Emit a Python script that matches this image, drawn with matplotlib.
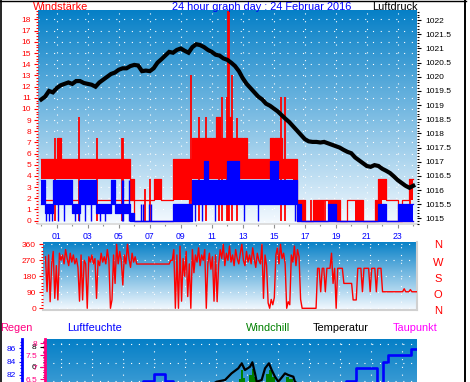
import numpy as np
import matplotlib
matplotlib.use('Agg')
import matplotlib.pyplot as plt
from matplotlib.lines import Line2D
from matplotlib.ticker import MultipleLocator, FixedLocator, FuncFormatter

plt.rcParams['font.family'] = ['Liberation Sans', 'DejaVu Sans']

W, H = 470, 382

# ---------------- data ----------------
# wind (quarter-hour intervals, 96 values): red = gusts band, blue = mean wind band
red_hi = [5.5,5.5,5.5,5.5,7.4,5.5,5.5,5.5, 5.5,5.5,5.5,5.5,5.5,5.5,5.5,5.5,
          5.5,5.5,5.5,5.5,5.5,5.5,5.5,3.7, 1.85,1.85,1.85,1.85,1.85,3.7,3.7,1.85,
          1.85,1.85,5.5,5.5,5.5,5.5,5.5,7.4, 7.4,7.4,7.4,7.4,7.4,9.3,7.4,7.4,
          9.3,7.4,7.4,7.4,7.4,5.5,5.5,5.5, 5.5,5.5,5.5,7.4,7.4,7.4,5.5,5.5,
          5.5,5.5,1.85,1.85,0,0,1.85,1.85, 1.85,1.85,1.85,1.85,1.85,0,0,1.85,
          1.85,1.85,1.85,0,0,0,1.85,3.7, 3.7,1.85,1.85,1.85,0,1.85,1.85,3.7]
red_lo = [3.7]*23 + [1.85] + [1.85]*8 + [1.85]*7 + [3.7] + [3.7]*24 + \
         [3.7,1.85,0,0,0,0,0,0, 0,1.85,0,0,0,0,0,1.85, 1.85,0,0,0,0,0,0,0,
          1.85,1.85,1.85,1.85,0,1.85,1.85,1.85]
red_base = [1.85]*24 + [0]*8 + [0,0,0,0,0,0,1.85,1.85] + [1.85]*24 + \
           [1.85,1.85,0,0,0,0,0,0] + [0]*24
blue_hi = [3.6,1.5,1.5,3.6,3.6,3.6,3.6,3.6, 1.5,1.5,3.6,3.6,3.6,3.6,1.5,1.5,
           1.5,1.5,3.6,1.5,1.5,1.5,1.5,0.7, 0,0,0,0,0,0,0,0,
           0,0,1.5,1.5,1.5,1.5,1.5,3.6, 3.6,3.6,5.3,3.6,3.6,3.6,3.6,3.6,
           5.3,5.3,5.3,3.6,3.6,3.6,3.6,3.6, 3.6,3.6,3.6,5.3,5.3,3.6,3.6,3.6,
           3.6,3.6,1.5,0,0,0,0,0, 0,0,1.5,1.5,0,0,0,0,
           0,0,0,0,0,0,0,1.5, 1.5,0,0,0,1.5,1.5,1.5,1.5]
blue_lo = [1.5,0.7,0.7,1.5,1.5,1.5,1.5,1.5, 0.7,0.7,1.5,1.5,1.5,1.5,0.7,0.7,
           0.7,0.7,1.5,0.7,0.7,0.7,0.7,0, 0,0,0,0,0,0,0,0,
           0,0,0,0,0,0,0,1.5] + [1.5]*24 + [1.5,1.5,0,0,0,0,0,0] + [0]*24
red_spike_t = [0.88, 2.43, 3.57, 5.2, 5.3, 6.7, 7.0, 9.69, 10.2, 10.6, 11.45, 11.65,
               11.96, 12.06, 12.14, 12.3, 12.6, 15.47, 15.72, 17.4, 18.3, 23.8]
red_spike_v = [7.4, 9.3, 7.4, 7.4, 7.4, 2.8, 3.7, 13.0, 9.3, 9.3, 9.3, 11.1,
               11.1, 18.8, 18.8, 13.0, 9.2, 11.1, 11.1, 1.85, 1.85, 3.7]
blue_spike_t = [0.3, 0.5, 0.7, 1.1, 1.45, 2.2, 2.43, 2.85, 3.2, 3.8, 4.1, 5.2, 5.3,
                5.65, 6.45, 6.55, 6.95, 7.1, 9.9, 10.4, 11.2, 13.1, 14.0, 16.4]
blue_spike_v = [1.5, 1.5, 1.5, 1.5, 1.5, 1.5, 3.6, 1.5, 1.5, 1.5, 1.5, 3.6, 3.6,
                3.6, 1.5, 1.5, 1.5, 1.5, 1.5, 1.5, 1.5, 1.5, 1.5, 1.5]

# pressure (hPa), every 15 min
pressure = [1019.2,1019.3,1019.5,1019.45,1019.6,1019.7,1019.75,1019.8,1019.75,1019.85,
            1019.85,1019.78,1019.75,1019.72,1019.65,1019.8,1019.9,1020.0,1020.1,1020.15,
            1020.25,1020.3,1020.3,1020.38,1020.42,1020.4,1020.2,1020.22,1020.2,1020.3,
            1020.5,1020.62,1020.75,1020.88,1020.85,1020.95,1021.0,1020.92,1020.85,1021.05,
            1021.15,1021.12,1021.05,1020.95,1020.88,1020.78,1020.75,1020.65,1020.6,1020.5,
            1020.38,1020.2,1019.95,1019.75,1019.6,1019.45,1019.3,1019.2,1019.05,1018.98,
            1018.88,1018.78,1018.65,1018.52,1018.4,1018.25,1018.1,1017.95,1017.8,1017.72,
            1017.7,1017.7,1017.68,1017.7,1017.65,1017.6,1017.55,1017.5,1017.42,1017.35,
            1017.3,1017.15,1017.05,1016.95,1016.85,1016.82,1016.88,1016.85,1016.75,1016.68,
            1016.6,1016.48,1016.35,1016.25,1016.15,1016.08,1016.15]

# wind direction (deg), every 6 minutes
direction = [290,94,300,37,250,320,56,240,47,310,
             270,300,250,330,280,240,310,260,300,250,
             280,230,40,300,47,270,250,0,290,260,
             300,250,280,56,270,240,310,260,290,250,
             330,270,0,47,300,140,360,250,320,270,
             131,300,250,360,280,230,310,260,290,249,
             249,249,249,249,249,249,249,249,249,249,
             249,249,249,249,249,249,249,249,249,249,
             249,270,270,330,0,300,0,350,40,280,
             180,320,66,250,0,330,200,300,260,340,
             240,300,270,330,0,250,310,220,290,40,
             300,37,250,330,280,360,240,310,270,350,
             260,300,240,330,280,250,310,360,270,240,
             320,260,300,250,340,280,230,310,270,250,
             360,56,300,240,30,0,50,20,60,300,
             340,250,360,280,310,250,0,37,20,300,
             260,350,240,330,290,50,0,0,0,0,
             0,0,0,0,0,0,225,225,93,225,
             225,93,225,225,225,310,140,225,0,225,
             225,225,225,140,140,140,140,140,140,47,
             47,47,225,225,225,93,225,225,225,225,
             93,225,225,225,93,225,225,225,93,93,
             93,93,93,93,93,93,93,93,93,93,
             93,93,110,93,93,93,105,93,93,93, 93]

# humidity (%)
hum_t = [0, 5.5, 6.27, 6.99, 7.7, 8.2, 12.0, 19.4, 20.06, 21.4, 21.8, 22.1, 23.6, 24.0]
hum_v = [79.5, 80.0, 81.15, 82.1, 81.15, 79.5, 70.0, 81.15, 83.0, 79.8, 83.9, 85.0, 85.9, 85.9]
# temperature / windchill (degC)
temp_t = [0, 6, 10.5, 11.04, 11.58, 12.0, 12.44, 12.66, 12.87, 13.2, 13.35, 13.52, 13.63,
          13.95, 14.17, 14.42, 14.6, 14.81, 15.03, 15.46, 15.67, 16.0, 16.1, 17, 24]
temp_v = [2.5, 2.0, 4.0, 4.5, 4.67, 5.33, 5.84, 6.34, 5.67, 6.0, 6.44, 5.33, 4.5,
          4.67, 5.84, 6.34, 5.67, 5.0, 4.5, 5.33, 5.17, 5.0, 4.5, 3.5, 2.0]
wc_t = [12.3, 12.5, 12.62, 12.75, 12.9, 13.1, 13.3, 13.45, 13.6, 14.0, 14.2, 14.4,
        14.6, 14.8, 15.3, 15.55, 15.7, 15.95]
wc_v = [3.5, 4.8, 5.7, 4.9, 4.5, 5.2, 5.8, 5.0, 4.0, 4.0, 5.3, 5.7, 5.0, 4.2, 4.3,
        5.0, 4.8, 4.0]

hour_labels = ['01', '03', '05', '07', '09', '11', '13', '15', '17', '19', '21', '23']
odd_hours = [1, 3, 5, 7, 9, 11, 13, 15, 17, 19, 21, 23]
dir_labels = ['N', 'W', 'S', 'O', 'N']
rain_ticks = [6.5, 7, 7.5, 8]
hum_ticks = [82, 84, 86]
temp_ticks = [6, 8]

# ---------------- helpers ----------------
def px_rect(l, t, r, b):
    return [l / W, 1 - b / H, (r - l) / W, (b - t) / H]

C_TOP = np.array([0.02, 0.50, 0.78])
C_BOT = np.array([0.96, 0.98, 1.0])

def gradient(ax, ctop=C_TOP, cbot=C_BOT):
    g = np.linspace(0, 1, 256)[:, None]
    img = ((1 - g) * ctop + g * cbot)[:, None, :]
    ax.imshow(img, extent=[0, 1, 0, 1], transform=ax.transAxes, aspect='auto',
              zorder=0, interpolation='bilinear')

DOTS = (0, (1, 6))
RED = '#ff0000'
BLUE = '#0000ff'
PINK = '#ff0080'

fig = plt.figure(figsize=(W / 100, H / 100), dpi=100)
fig.patch.set_facecolor('white')

# ---------------- top panel ----------------
ax1 = fig.add_axes(px_rect(38, 10, 417, 224))
gradient(ax1)
tq = np.arange(97) * 0.25
ext = lambda a: list(a) + [a[-1]]
ax1.fill_between(tq, ext(red_lo), ext(red_hi), step='post', color=RED, lw=0, zorder=2)
ax1.step(tq, ext(red_hi), where='post', color=RED, lw=0.9, zorder=2)
ax1.step(tq, ext(red_base), where='post', color=RED, lw=0.9, zorder=2)
ax1.vlines(red_spike_t, 0, red_spike_v, color=RED, lw=1.3, zorder=2)
ax1.fill_between(tq, ext(blue_lo), ext(blue_hi), step='post', color=BLUE, lw=0, zorder=3)
ax1.step(tq, ext(blue_hi), where='post', color=BLUE, lw=0.9, zorder=3)
ax1.step(tq, ext(blue_lo), where='post', color=BLUE, lw=0.9, zorder=3)
ax1.vlines(blue_spike_t, 0, blue_spike_v, color=BLUE, lw=1.0, zorder=3)
ax1.set_xlim(-0.21, 24.24)
ax1.set_ylim(-0.3, 18.85)
ax1.yaxis.set_major_locator(MultipleLocator(1))
ax1.yaxis.set_minor_locator(MultipleLocator(0.25))
ax1.xaxis.set_major_locator(FixedLocator(odd_hours))
ax1.xaxis.set_minor_locator(MultipleLocator(1))
ax1.set_xticklabels(hour_labels)
ax1.tick_params(axis='y', which='both', colors=RED, labelsize=6, width=0.8, pad=2)
ax1.tick_params(axis='y', which='major', length=3)
ax1.tick_params(axis='y', which='minor', length=1.2)
ax1.tick_params(axis='x', which='both', colors='#909090', labelcolor=BLUE, labelsize=6.2,
                width=0.8, pad=3)
ax1.tick_params(axis='x', which='major', length=3)
ax1.tick_params(axis='x', which='minor', length=1.6)
ax1.grid(True, which='major', color='white', lw=0.8, linestyle=DOTS)
ax1.set_axisbelow(True)
for s in ['top', 'left', 'right']:
    ax1.spines[s].set_visible(False)
ax1.spines['bottom'].set_color('#d8d8d8')
ax1.spines['bottom'].set_linewidth(1.2)

ax1p = ax1.twinx()
ax1p.plot(tq, pressure, color='black', lw=3.0, solid_joinstyle='miter', zorder=5)
ax1p.set_ylim(1014.80, 1022.36)
ax1p.yaxis.set_major_locator(MultipleLocator(0.5))
ax1p.yaxis.set_minor_locator(MultipleLocator(0.1))
ax1p.yaxis.set_major_formatter(FuncFormatter(lambda v, p: '%g' % v))
ax1p.tick_params(axis='y', which='both', colors='black', labelsize=6, width=0.8, pad=3)
ax1p.tick_params(axis='y', which='major', length=3)
ax1p.tick_params(axis='y', which='minor', length=1.3)
for s in ax1p.spines.values():
    s.set_visible(False)

# ---------------- middle panel ----------------
ax2 = fig.add_axes(px_rect(43, 241.7, 416.7, 310))
gradient(ax2)
td = np.arange(len(direction)) * 0.1
ax2.plot(td, direction, color=RED, lw=1.0, zorder=3)
ax2.set_xlim(-0.162, 24.01)
ax2.set_ylim(-9.6, 374.6)
ax2.yaxis.set_major_locator(MultipleLocator(90))
ax2.yaxis.set_minor_locator(MultipleLocator(18))
ax2.xaxis.set_major_locator(FixedLocator(odd_hours))
ax2.tick_params(axis='x', which='both', length=0, labelbottom=False)
ax2.tick_params(axis='y', which='both', colors=RED, labelsize=6, width=0.8, pad=2)
ax2.tick_params(axis='y', which='major', length=3)
ax2.tick_params(axis='y', which='minor', length=1.2)
ax2.grid(True, which='major', color='white', lw=0.8, linestyle=DOTS)
ax2.set_axisbelow(True)
for s in ['top', 'left']:
    ax2.spines[s].set_visible(False)
for s in ['right', 'bottom']:
    ax2.spines[s].set_color('#d0d0d0')
    ax2.spines[s].set_linewidth(1.5)

dir_y = [244.5, 262.5, 279, 295.5, 311]
for lab, yy in zip(dir_labels, dir_y):
    fig.text(438.3 / W, 1 - yy / H, lab, color=RED, fontsize=8, ha='center', va='center')

# ---------------- bottom panel ----------------
ax3 = fig.add_axes(px_rect(45, 339.3, 416.7, 540))
gradient(ax3)
ax3.fill_between(wc_t, -12, wc_v, step='post', color='#008000', lw=0, zorder=2)
ax3.plot(temp_t, temp_v, color='black', lw=1.6, zorder=3)
ax3.set_xlim(-0.065, 23.98)
ax3.set_ylim(-11.33, 8.74)
ax3.xaxis.set_major_locator(FixedLocator(odd_hours))
ax3.tick_params(axis='x', which='both', length=0, labelbottom=False)
ax3.grid(True, axis='x', which='major', color='white', lw=0.8, linestyle=DOTS)
for yv in [8.24, 6.4, 4.56]:
    ax3.axhline(yv, color='white', lw=0.8, linestyle=DOTS, zorder=1)
ax3.set_axisbelow(True)
ax3.yaxis.tick_right()
ax3.yaxis.set_major_locator(FixedLocator(temp_ticks))
ax3.yaxis.set_minor_locator(FixedLocator([4.5, 5, 5.5, 6.5, 7, 7.5, 8.5]))
ax3.tick_params(axis='y', which='both', colors='black', labelsize=6, width=0.8, pad=2.5)
ax3.tick_params(axis='y', which='major', length=3.5)
ax3.tick_params(axis='y', which='minor', length=1.3)
for s in ax3.spines.values():
    s.set_visible(False)

ax3h = ax3.twinx()
ax3h.step(hum_t, hum_v, where='post', color=BLUE, lw=1.9, zorder=4)
ax3h.set_ylim(57.26, 87.35)
ax3h.yaxis.tick_left()
for s in ax3h.spines.values():
    s.set_visible(False)
ax3h.spines['left'].set_visible(True)
ax3h.spines['left'].set_position(('axes', -0.0619))
ax3h.spines['left'].set_color(BLUE)
ax3h.spines['left'].set_linewidth(2.0)
ax3h.yaxis.set_major_locator(FixedLocator(hum_ticks))
ax3h.yaxis.set_minor_locator(FixedLocator([81, 81.5, 82.5, 83, 83.5, 84.5, 85, 85.5, 86.5, 87]))
ax3h.tick_params(axis='y', which='both', colors=BLUE, labelsize=6, width=0.8, pad=2)
ax3h.tick_params(axis='y', which='major', length=2.5)
ax3h.tick_params(axis='y', which='minor', length=1.2)

ax3r = ax3.twinx()
ax3r.set_ylim(-0.196, 8.167)
ax3r.yaxis.tick_left()
for s in ax3r.spines.values():
    s.set_visible(False)
ax3r.spines['left'].set_visible(True)
ax3r.spines['left'].set_color(PINK)
ax3r.spines['left'].set_linewidth(2.0)
ax3r.yaxis.set_major_locator(FixedLocator(rain_ticks))
ax3r.yaxis.set_minor_locator(FixedLocator([6.4, 6.6, 6.7, 6.8, 6.9, 7.1, 7.2, 7.3, 7.4,
                                           7.6, 7.7, 7.8, 7.9, 8.1]))
ax3r.yaxis.set_major_formatter(FuncFormatter(lambda v, p: '%g' % v))
ax3r.tick_params(axis='y', which='both', colors=PINK, labelsize=6, width=0.8, pad=2)
ax3r.tick_params(axis='y', which='major', length=3.5)
ax3r.tick_params(axis='y', which='minor', length=1.3)

# ---------------- texts ----------------
def ftxt(x, ybase, s, color, size=7.9):
    fig.text(x / W, 1 - ybase / H, s, color=color, fontsize=size, ha='left', va='baseline')

ftxt(33, 9.5, 'Windstärke', RED)
ftxt(172, 9.5, '24 hour graph day : 24 Februar 2016', BLUE)
ftxt(372, 9.5, 'Luftdruck', 'black')
ftxt(0, 331, 'Regen', PINK)
ftxt(67, 331, 'Luftfeuchte', BLUE)
ftxt(246, 331, 'Windchill', '#008000')
ftxt(312.7, 331, 'Temperatur', 'black')
ftxt(392.3, 331, 'Taupunkt', '#ff00ff')

# outer frame
fig.add_artist(Line2D([0.6 / W, 0.6 / W], [0, 1], color='black', lw=1.2))
fig.add_artist(Line2D([0, 465.5 / W], [1 - 0.5 / H, 1 - 0.5 / H], color='black', lw=1.0))
fig.add_artist(Line2D([465 / W, 465 / W], [0, 1], color='black', lw=1.4))

fig.savefig('out.png', dpi=100)
